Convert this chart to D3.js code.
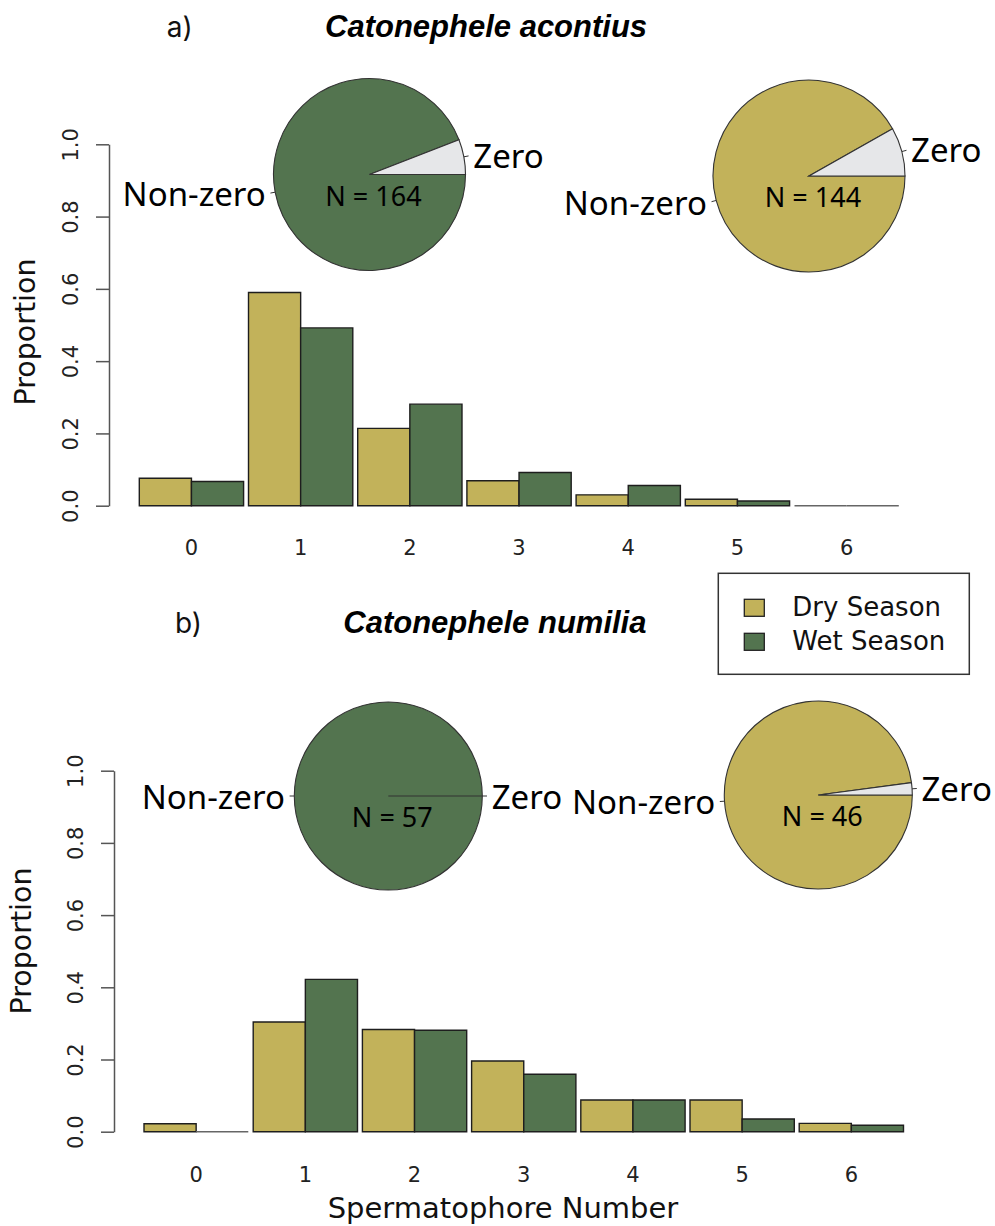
<!DOCTYPE html>
<html><head><meta charset="utf-8">
<script src="https://cdn.jsdelivr.net/npm/d3@7"></script>
<style>body{margin:0;background:#fff} svg{display:block}</style>
</head><body>
<svg id="chart" width="995" height="1226"></svg>
<script>
// ---------- data ----------
const categories = ["0", "1", "2", "3", "4", "5", "6"];
const seasons = ["Dry Season", "Wet Season"];
const yTicks = [0, 0.2, 0.4, 0.6, 0.8, 1.0];

const acontiusDry = [0.076, 0.590, 0.214, 0.069, 0.030, 0.018, 0];
const acontiusWet = [0.067, 0.492, 0.281, 0.092, 0.056, 0.013, 0];
const numiliaDry  = [0.022, 0.304, 0.283, 0.196, 0.088, 0.088, 0.023];
const numiliaWet  = [0, 0.422, 0.281, 0.159, 0.088, 0.035, 0.018];

const pieLabels = ["Zero", "Non-zero"];
const acontiusZeroShare = [0.082, 0.059];   // dry, wet
const acontiusN = [144, 164];               // dry, wet
const numiliaZeroShare = [0.021, 0];        // dry, wet
const numiliaN = [46, 57];                  // dry, wet

const titles = ["Catonephele acontius", "Catonephele numilia"];
const panelTags = ["a)", "b)"];
const xTitle = "Spermatophore Number";
const yTitle = "Proportion";

// ---------- style ----------
const colors = {"Dry Season": "#c2b25a", "Wet Season": "#53744f"};
const zeroColor = "#e6e7e9";
const tickFont = "DejaVu Sans";
const pieFont = "Noto Sans";

const svg = d3.select("#chart");
svg.append("rect").attr("width", 995).attr("height", 1226).attr("fill", "#fff");

const panels = [
  {dry: acontiusDry, wet: acontiusWet, zero: acontiusZeroShare, n: acontiusN,
   title: titles[0], tag: panelTags[0],
   axisX: 109, yTop: 144.3, yBot: 505.7, band: [136.85, 901.25],
   pieDry: {cx: 809, cy: 176, r: 96}, pieWet: {cx: 369.5, cy: 174.5, r: 96},
   yLabX: 35, yLabY: 332, tickLabX: 78, xTickY: 555,
   tagPos: [166.7, 37], titlePos: [325, 37], xlab: false},
  {dry: numiliaDry, wet: numiliaWet, zero: numiliaZeroShare, n: numiliaN,
   title: titles[1], tag: panelTags[1],
   axisX: 114, yTop: 770.7, yBot: 1131.7, band: [141.55, 905.95],
   pieDry: {cx: 818.3, cy: 795, r: 94}, pieWet: {cx: 388.3, cy: 796, r: 94},
   yLabX: 31, yLabY: 941, tickLabX: 83, xTickY: 1182,
   tagPos: [175, 633], titlePos: [343.3, 633], xlab: true}
];

function drawPie(g, cfg, zeroShare, n, fill) {
  const pg = g.append("g").attr("transform", `translate(${cfg.cx},${cfg.cy})`);
  const pie = d3.pie().sort(null).value(d => d.v)
    .startAngle(Math.PI / 2).endAngle(Math.PI / 2 - 2 * Math.PI);
  const arcs = pie([{k: pieLabels[0], v: zeroShare}, {k: pieLabels[1], v: 1 - zeroShare}]);
  const arc = d3.arc().innerRadius(0).outerRadius(cfg.r);
  [arcs[1], arcs[0]].forEach(a => {
    pg.append("path").attr("d", arc(a))
      .attr("fill", a.data.k === "Zero" ? zeroColor : fill)
      .attr("stroke", "#333").attr("stroke-width", 1.1);
  });
  arcs.forEach(a => {
    const m = (a.startAngle + a.endAngle) / 2;
    const sx = Math.sin(m), sy = -Math.cos(m);
    pg.append("line")
      .attr("x1", sx * cfg.r).attr("y1", sy * cfg.r)
      .attr("x2", sx * cfg.r * 1.05).attr("y2", sy * cfg.r * 1.05)
      .attr("stroke", "#333").attr("stroke-width", 1);
    pg.append("text")
      .attr("x", sx * cfg.r * 1.1).attr("y", sy * cfg.r * 1.1)
      .attr("text-anchor", sx >= 0 ? "start" : "end")
      .attr("dominant-baseline", "central")
      .attr("font-family", pieFont).attr("font-size", 33)
      .attr("fill", "#000").text(a.data.k);
  });
  pg.append("text").attr("x", 4).attr("y", 31).attr("text-anchor", "middle")
    .attr("font-family", pieFont).attr("font-size", 27).attr("fill", "#000")
    .text(`N = ${n}`);
}

panels.forEach(p => {
  const g = svg.append("g");
  const y = d3.scaleLinear().domain([0, 1]).range([p.yBot, p.yTop]);
  const x0 = d3.scaleBand().domain(categories).range(p.band)
    .paddingInner(0.045).paddingOuter(0.0225);
  const x1 = d3.scaleBand().domain(seasons).range([0, x0.bandwidth()]).padding(0);

  const rows = categories.map((c, i) => ({c, vals: [
    {s: seasons[0], v: p.dry[i]}, {s: seasons[1], v: p.wet[i]}]}));
  const grp = g.selectAll("g.grp").data(rows).join("g")
    .attr("transform", d => `translate(${x0(d.c)},0)`);
  grp.selectAll("path").data(d => d.vals).join("path")
    .attr("d", d => {
      const x = x1(d.s), w = x1.bandwidth(), yb = y(0), yt = y(d.v);
      return `M${x},${yb}V${yt}H${x + w}V${yb}Z`;
    })
    .attr("fill", d => colors[d.s])
    .attr("stroke", d => d.v === 0 ? "#666" : "#1e1e1e")
    .attr("stroke-width", 1.4);

  const ya = g.append("g").attr("transform", `translate(${p.axisX},0)`)
    .call(d3.axisLeft(y).tickValues(yTicks).tickFormat(d3.format(".1f"))
      .tickSize(13).tickSizeOuter(0));
  ya.select(".domain").attr("stroke", "#555").attr("stroke-width", 1.5);
  ya.selectAll(".tick line").attr("stroke", "#555").attr("stroke-width", 1.5);
  ya.selectAll(".tick text")
    .attr("x", null).attr("dy", null)
    .attr("transform", `translate(${p.tickLabX - p.axisX},0) rotate(-90)`)
    .attr("text-anchor", "middle")
    .attr("font-family", tickFont).attr("font-size", 21).attr("fill", "#222");

  const xa = g.append("g").attr("transform", `translate(0,${p.xTickY})`)
    .call(d3.axisBottom(x0).tickSize(0).tickSizeOuter(0));
  xa.select(".domain").remove();
  xa.selectAll(".tick text").attr("y", 0).attr("dy", null)
    .attr("font-family", tickFont).attr("font-size", 21).attr("fill", "#222");

  g.append("text").attr("transform", `translate(${p.yLabX},${p.yLabY}) rotate(-90)`)
    .attr("text-anchor", "middle").attr("font-family", tickFont)
    .attr("font-size", 28.5).attr("fill", "#111").text(yTitle);

  if (p.xlab) {
    g.append("text").attr("x", 503).attr("y", 1218).attr("text-anchor", "middle")
      .attr("font-family", tickFont).attr("font-size", 29).attr("fill", "#111")
      .text(xTitle);
  }

  g.append("text").attr("x", p.tagPos[0]).attr("y", p.tagPos[1])
    .attr("font-family", "Inter").attr("font-size", 28).attr("fill", "#111").text(p.tag);
  g.append("text").attr("x", p.titlePos[0]).attr("y", p.titlePos[1])
    .attr("font-family", "Liberation Sans").attr("font-weight", "bold")
    .attr("font-style", "italic").attr("font-size", 31).attr("fill", "#000").text(p.title);

  drawPie(g, p.pieWet, p.zero[1], p.n[1], colors[seasons[1]]);
  drawPie(g, p.pieDry, p.zero[0], p.n[0], colors[seasons[0]]);
});

const lg = svg.append("g").attr("transform", "translate(718.3,573.3)");
lg.append("rect").attr("width", 251).attr("height", 101)
  .attr("fill", "#fff").attr("stroke", "#333").attr("stroke-width", 1.5);
seasons.forEach((s, i) => {
  lg.append("rect").attr("x", 26).attr("y", 26 + i * 34).attr("width", 20).attr("height", 17)
    .attr("fill", colors[s]).attr("stroke", "#222").attr("stroke-width", 1.3);
  lg.append("text").attr("x", 74).attr("y", 43 + i * 34)
    .attr("font-family", tickFont).attr("font-size", 26).attr("fill", "#111").text(s);
});
</script>
</body></html>
